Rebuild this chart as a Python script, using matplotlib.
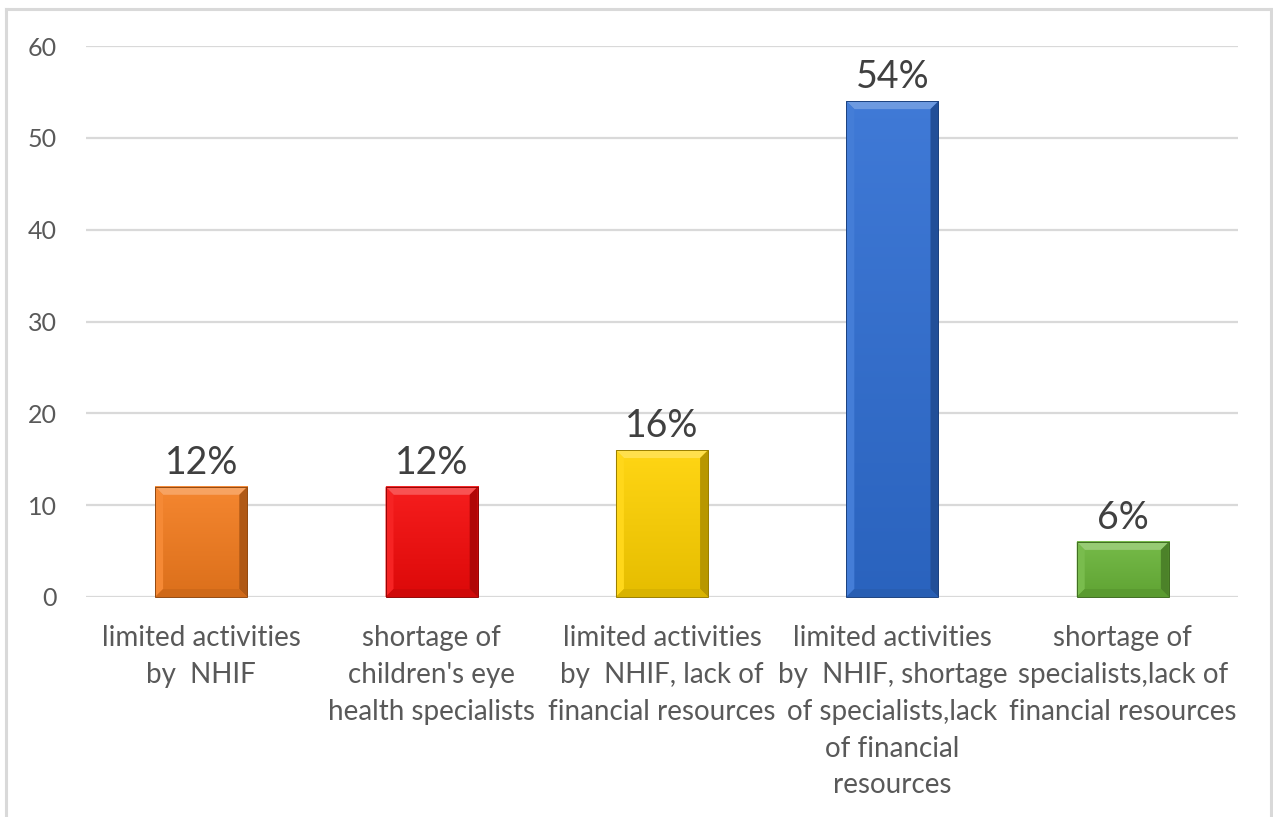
import matplotlib
matplotlib.use("Agg")
import matplotlib.pyplot as plt
from matplotlib.patches import Polygon
from matplotlib.lines import Line2D
import matplotlib.colors as mcolors
import numpy as np

plt.rcParams['font.family'] = ['Lato', 'DejaVu Sans']

categories = [
    "limited activities\nby  NHIF",
    "shortage of\nchildren's eye\nhealth specialists",
    "limited activities\nby  NHIF, lack of\nfinancial resources",
    "limited activities\nby  NHIF, shortage\nof specialists,lack\nof financial\nresources",
    "shortage of\nspecialists,lack of\nfinancial resources",
]
values = [12, 12, 16, 54, 6]
value_labels = ["12%", "12%", "16%", "54%", "6%"]
bar_colors = ["#F47C1E", "#F50A0A", "#FFD200", "#2F6ED3", "#6AB539"]
y_ticks = [0, 10, 20, 30, 40, 50, 60]

W, H = 1273, 817
fig = plt.figure(figsize=(W / 100, H / 100), dpi=100)
ax = fig.add_axes([86 / W, 1 - 597 / H, (1238 - 86) / W, (597 - 46) / H])

x = np.arange(len(categories))
bar_w = 0.4
bars = ax.bar(x, values, width=bar_w, color=bar_colors, zorder=3, linewidth=0)

ax.set_xlim(-0.5, len(categories) - 0.5)
ax.set_ylim(0, 60)
ax.set_yticks(y_ticks)
ax.set_yticklabels([str(t) for t in y_ticks])
ax.set_xticks(x)
ax.set_xticklabels(categories, fontsize=20, color="#595959", linespacing=1.52,
                   va="top")
ax.tick_params(axis="x", length=0, pad=20)
ax.tick_params(axis="y", length=0, pad=21, labelsize=18, labelcolor="#595959")
for s in ax.spines.values():
    s.set_visible(False)
ax.yaxis.grid(True, color="#D9D9D9", linewidth=1.6, zorder=0)
ax.set_axisbelow(True)

# Bevelled face for each bar, drawn in display pixels from the bar geometry
fig.canvas.draw()
bevel = 8
for rect, col in zip(bars, bar_colors):
    (x0, y0) = ax.transData.transform((rect.get_x(), 0))
    (x1, y1) = ax.transData.transform((rect.get_x() + rect.get_width(), rect.get_height()))
    base = np.array(mcolors.to_rgb(col))
    light = base + (1 - base) * 0.3
    dark = base * 0.72
    mid_dark = base * 0.85
    # soft vertical gradient on the face
    grad = np.linspace(0, 1, 64)[:, None]
    top_c = base + (1 - base) * 0.08
    bot_c = base * 0.9
    img = top_c[None, None, :] * (1 - grad[..., None]) + bot_c[None, None, :] * grad[..., None]
    img = np.repeat(img, 2, axis=1)
    ax.imshow(img, extent=(rect.get_x(), rect.get_x() + rect.get_width(), 0, rect.get_height()),
              aspect="auto", zorder=3.5, origin="upper", interpolation="bilinear")
    d = min(bevel, (x1 - x0) / 3, (y1 - y0) / 3)
    faces = [
        ([(x0, y1), (x1, y1), (x1 - d, y1 - d), (x0 + d, y1 - d)], light),
        ([(x0, y0), (x0, y1), (x0 + d, y1 - d), (x0 + d, y0 + d)], base + (1 - base) * 0.1),
        ([(x1, y0), (x1, y1), (x1 - d, y1 - d), (x1 - d, y0 + d)], dark),
        ([(x0, y0), (x1, y0), (x1 - d, y0 + d), (x0 + d, y0 + d)], mid_dark),
    ]
    for pts, c in faces:
        fig.patches.append(Polygon(pts, closed=True, facecolor=np.clip(c, 0, 1),
                                   edgecolor="none", transform=None, zorder=4,
                                   figure=fig))
    fig.patches.append(Polygon([(x0, y0), (x0, y1), (x1, y1), (x1, y0)], closed=True,
                               facecolor="none", edgecolor=np.clip(base * 0.6, 0, 1),
                               linewidth=0.7, transform=None, zorder=4.5, figure=fig))

ax.set_xlim(-0.5, len(categories) - 0.5)
ax.set_ylim(0, 60)

for xi, v, lab in zip(x, values, value_labels):
    ax.annotate(lab, (xi, v), xytext=(0, 9.5), textcoords="offset points",
                ha="center", va="baseline", fontsize=27, color="#404040", zorder=5)

# Chart frame (open at the bottom)
frame_c = "#D9D9D9"
fig.lines.append(Line2D([6 / W, 6 / W], [0, 1 - 9 / H], transform=fig.transFigure,
                        color=frame_c, linewidth=2.2))
fig.lines.append(Line2D([6 / W, 1271 / W], [1 - 9 / H, 1 - 9 / H], transform=fig.transFigure,
                        color=frame_c, linewidth=2.2))
fig.lines.append(Line2D([1271 / W, 1271 / W], [0, 1 - 9 / H], transform=fig.transFigure,
                        color=frame_c, linewidth=2.2))

fig.savefig("out.png", dpi=100)
